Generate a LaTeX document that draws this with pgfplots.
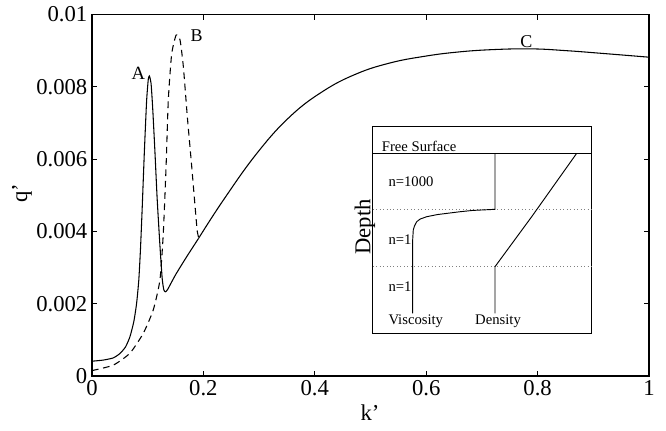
\documentclass[border=0pt]{standalone}
\usepackage{fontspec}
\setmainfont{Liberation Serif}
\usepackage{pgfplots}
\pgfplotsset{compat=1.18}

\begin{document}
\begin{tikzpicture}
\useasboundingbox (-69pt,-40.5pt) rectangle (430.5pt,282pt);
% main growth-rate curves
\begin{axis}[
  at={(0pt,0pt)}, anchor=south west,
  scale only axis, width=417.75pt, height=271.1pt,
  xmin=0, xmax=1, ymin=0, ymax=0.01,
  xtick={0,0.2,0.4,0.6,0.8,1},
  ytick={0,0.002,0.004,0.006,0.008,0.01},
  scaled y ticks=false, scaled x ticks=false,
  yticklabel style={/pgf/number format/fixed, /pgf/number format/precision=3},
  /pgf/number format/assume math mode=true,
  tick label style={font=\fontsize{17}{20}\selectfont},
  tick align=inside, major tick length=4pt,
  axis line style={line width=0.8pt},
  every tick/.style={line width=0.7pt, black},
  xlabel={k'}, ylabel={q'},
  label style={font=\fontsize{17}{20}\selectfont},
  xlabel style={at={(axis description cs:0.499,-0.102)}, anchor=center},
  ylabel style={at={(axis description cs:-0.1257,0.506)}, anchor=center},
  clip=false,
]
% curve A and its continuation (solid)
\addplot[black, line width=0.8pt, smooth, tension=0.35] coordinates {
  (0,0.00041) (0.02,0.00044) (0.038,0.00050) (0.05,0.00062) (0.06,0.00080)
  (0.068,0.00108) (0.075,0.00150) (0.080,0.00200) (0.084,0.00265)
  (0.087,0.0035) (0.090,0.0046) (0.094,0.0062) (0.098,0.0076)
  (0.101,0.0082) (0.103,0.0083) (0.106,0.0081) (0.109,0.0074)
  (0.113,0.0062) (0.117,0.0049) (0.122,0.0036) (0.126,0.0027)
  (0.129,0.00238) (0.132,0.00233) (0.136,0.00240) (0.15,0.0028)
  (0.17,0.0033) (0.191,0.0038)
};
\addplot[black, line width=0.8pt, smooth, tension=0.7] coordinates {
  (0.191,0.0038) (0.236,0.00487) (0.296,0.00616)
  (0.355,0.00717) (0.415,0.00788) (0.475,0.00836) (0.535,0.00866)
  (0.595,0.00884) (0.655,0.00896) (0.72,0.00903) (0.79,0.00905)
  (0.852,0.0090) (0.912,0.00893) (1.0,0.00882)
};
% curve B (dashed)
\addplot[black, line width=0.8pt, dash pattern=on 5pt off 3.5pt, smooth, tension=0.35] coordinates {
  (0,0.00015) (0.038,0.0003) (0.068,0.00063) (0.092,0.00118)
  (0.110,0.00183) (0.122,0.00266) (0.128,0.00395) (0.133,0.0058)
  (0.137,0.00764) (0.143,0.0089) (0.151,0.00943) (0.158,0.0093)
  (0.164,0.00856) (0.171,0.0072) (0.179,0.0058) (0.185,0.0047)
  (0.189,0.0040) (0.192,0.0038)
};
\node[font=\fontsize{14}{16}\selectfont] at (axis cs:0.0831,0.00837) {A};
\node[font=\fontsize{13.5}{16}\selectfont] at (axis cs:0.188,0.00943) {B};
\node[font=\fontsize{13.5}{16}\selectfont] at (axis cs:0.780,0.00925) {C};
\end{axis}

% inset: viscosity and density profiles against depth
\begin{axis}[
  at={(210.5pt,32.25pt)}, anchor=south west,
  scale only axis, width=164.25pt, height=154.7pt,
  xmin=0, xmax=219, ymin=0, ymax=206.3,
  xtick=\empty, ytick=\empty,
  axis line style={line width=0.7pt},
  ylabel={Depth},
  ylabel style={at={(axis description cs:-0.035,0.514)}, anchor=center,
    font=\fontsize{17}{20}\selectfont},
  clip=false,
]
\addplot[black, line width=0.7pt] coordinates {(0,179.7) (219,179.7)};
\addplot[gray, dotted, line width=0.6pt] coordinates {(0,123.7) (219,123.7)};
\addplot[gray, dotted, line width=0.6pt] coordinates {(0,67) (219,67)};
\addplot[black, line width=0.7pt] coordinates {
  (122.3,179.7) (122.3,123.7) (100,122.6) (87.3,121.3) (65,118.5)
  (54,116.3) (47.5,114) (44,111.3) (41.8,107) (40.6,103) (40,93) (40,19.7)
};
\addplot[black, line width=0.7pt] coordinates {
  (204,179.7) (159,116.3) (122.3,66.3) (122.3,19.7)
};
\node[anchor=west, inner sep=0pt, font=\fontsize{11}{13}\selectfont] at (axis cs:9,187) {Free Surface};
\node[anchor=west, inner sep=0pt, font=\fontsize{11}{13}\selectfont] at (axis cs:15.6,151.3) {n=1000};
\node[anchor=west, inner sep=0pt, font=\fontsize{11}{13}\selectfont] at (axis cs:15.6,93) {n=1};
\node[anchor=west, inner sep=0pt, font=\fontsize{11}{13}\selectfont] at (axis cs:15.6,46.3) {n=1};
\node[anchor=west, inner sep=0pt, font=\fontsize{11}{13}\selectfont] at (axis cs:15.6,11.3) {Viscosity};
\node[anchor=west, inner sep=0pt, font=\fontsize{11}{13}\selectfont] at (axis cs:102.3,11.3) {Density};
\end{axis}
\end{tikzpicture}
\end{document}
